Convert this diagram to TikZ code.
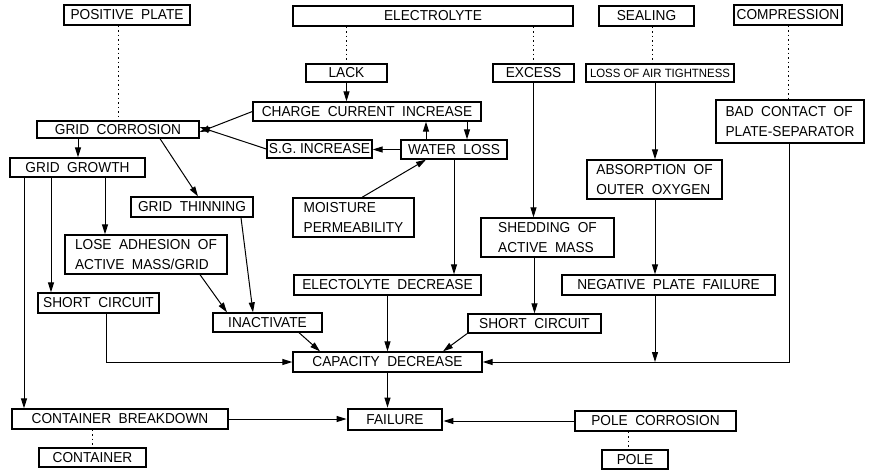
\documentclass[tikz,border=0pt]{standalone}
\usepackage{fontspec}
\setmainfont{Liberation Sans}
\newfontfamily\plainfont[FakeStretch=0.95]{Liberation Sans}
\newcommand{\bxf}{\plainfont\fontsize{14.4}{19.5}\selectfont\spaceskip=7.5pt plus 1pt minus 1pt\relax}
\newcommand{\pxf}{\plainfont\fontsize{14.4}{19.5}\selectfont}
\newcommand{\sxf}{\plainfont\fontsize{12}{14}\selectfont}
\usetikzlibrary{arrows.meta}
\begin{document}
\begin{tikzpicture}[x=1pt,y=-1pt,
  box/.style={draw, line width=1.3pt, inner sep=0pt, align=center, font=\bxf},
  box2/.style={box, align=left},
  sz/.style n args={2}{minimum width=#1pt, minimum height=#2pt},
  arr/.style={line width=1pt, -{Triangle[length=10pt,width=6pt]}},
  dotl/.style={line width=1pt, dash pattern=on 1.5pt off 3pt}]
\useasboundingbox (0,0) rectangle (872,472);
% top row
\node[box, sz={126}{20}] (pp) at (127,15) {POSITIVE PLATE};
\node[box, sz={280}{20}] (el) at (433,16) {ELECTROLYTE};
\node[box, sz={95}{20}] (se) at (646.5,16) {SEALING};
\node[box, sz={108}{20}] (co) at (788,15) {COMPRESSION};
% second level
\node[box, sz={81}{18}] (lack) at (346.5,73) {LACK};
\node[box, sz={81}{18}] (exc) at (533.5,73) {EXCESS};
\node[box, sz={148}{18}, font=\sxf] (lat) at (660,73) {LOSS OF AIR TIGHTNESS};
\node[box, sz={228}{19}] (cci) at (367,111.5) {CHARGE CURRENT INCREASE};
\node[box, sz={162}{17}] (gc) at (118,129.5) {GRID CORROSION};
\node[box, sz={105}{18}, font=\pxf] (sg) at (319.5,149) {S.G. INCREASE};
\node[box, sz={106}{19}] (wl) at (454,149.5) {WATER LOSS};
\node[box2, sz={148}{43}] (bc) at (790,121.5) {BAD CONTACT OF\\PLATE-SEPARATOR};
\node[box, sz={135}{19}] (gg) at (77.5,167.5) {GRID GROWTH};
\node[box, sz={122}{20}] (gt) at (192,207) {GRID THINNING};
\node[box2, sz={121}{39}] (mp) at (353.5,217.5) {MOISTURE\\PERMEABILITY};
\node[box2, sz={135}{39}] (ab) at (654.5,179.5) {ABSORPTION OF\\OUTER OXYGEN};
\node[box2, sz={133}{39}] (sh) at (547.5,237.5) {SHEDDING OF\\ACTIVE MASS};
\node[box2, sz={162}{39}] (la) at (146,254.5) {LOSE ADHESION OF\\ACTIVE MASS/GRID};
\node[box, sz={187}{20}] (ed) at (387.5,285) {ELECTOLYTE DECREASE};
\node[box, sz={213}{20}] (np) at (668.5,285) {NEGATIVE PLATE FAILURE};
\node[box, sz={121}{20}] (scl) at (98.5,303) {SHORT CIRCUIT};
\node[box, sz={109}{19}] (ina) at (267.5,322.5) {INACTIVATE};
\node[box, sz={133}{19}] (scr) at (534.5,323.5) {SHORT CIRCUIT};
\node[box, sz={189}{20}] (cd) at (387.5,362) {CAPACITY DECREASE};
\node[box, sz={216}{20}] (cb) at (120,419) {CONTAINER BREAKDOWN};
\node[box, sz={94}{21}, line width=2.8pt] (fa) at (395,419.5) {FAILURE};
\node[box, sz={161}{20}] (pc) at (655.5,421) {POLE CORROSION};
\node[box, sz={107}{19}] (cont) at (92.5,457.5) {CONTAINER};
\node[box, sz={66}{19}] (pole) at (635,459.5) {POLE};
% dotted links
\draw[dotl] (118,0 |- pp.south) -- (118,0 |- gc.north);
\draw[dotl] (lack.north |- el.south) -- (lack.north);
\draw[dotl] (exc.north |- el.south) -- (exc.north);
\draw[dotl] (652,0 |- se.south) -- (652,0 |- lat.north);
\draw[dotl] (co.south) -- (co.south |- bc.north);
\draw[dotl] (92,0 |- cb.south) -- (92,0 |- cont.north);
\draw[dotl] (628,0 |- pc.south) -- (628,0 |- pole.north);
% arrows
\draw[arr] (lack.south) -- (lack.south |- cci.north);
\draw[arr] (cci.west) -- ([yshift=-2.5pt]gc.east);
\draw[arr] (sg.west) -- ([yshift=2.5pt]gc.east);
\draw[arr] (wl.west) -- (wl.west -| sg.east);
\draw[arr] (426,0 |- wl.north) -- (426,0 |- cci.south);
\draw[arr] (467,0 |- cci.south) -- (467,0 |- wl.north);
\draw[arr] (362,0 |- mp.north) -- (426,0 |- wl.south);
\draw[arr] (wl.south) -- (wl.south |- ed.north);
\draw[arr] (exc.south) -- (exc.south |- sh.north);
\draw[arr] (655,0 |- lat.south) -- (655,0 |- ab.north);
\draw[arr] (655,0 |- ab.south) -- (655,0 |- np.north);
\draw[arr] (78,0 |- gc.south) -- (78,0 |- gg.north);
\draw[arr] (160,0 |- gc.south) -- (198,0 |- gt.north);
\draw[arr] (105,0 |- gg.south) -- (105,0 |- la.north);
\draw[arr] (51,0 |- gg.south) -- (51,0 |- scl.north);
\draw[arr] (24,0 |- gg.south) -- (24,0 |- cb.north);
\draw[arr] (241,0 |- gt.south) -- (253,0 |- ina.north);
\draw[arr] (200,0 |- la.south) -- (227,0 |- ina.north);
\draw[arr] (106,0 |- scl.south) |- (cd.west);
\draw[arr] (299,0 |- ina.south) -- (320,0 |- cd.north);
\draw[arr] (ed.south) -- (ed.south |- cd.north);
\draw[arr] (467,0 |- scr.south) -- (443,0 |- cd.north);
\draw[arr] (sh.south -| scr.north) -- (scr.north);
\draw[arr] (655,0 |- np.south) -- (655,0 |- cd.east);
\draw[arr] (789,0 |- bc.south) |- (cd.east);
\draw[arr] (cd.south) -- (cd.south |- fa.north);
\draw[arr] (cb.east) -- (cb.east -| fa.west);
\draw[arr] (pc.west) -- (pc.west -| fa.east);
\end{tikzpicture}
\end{document}
